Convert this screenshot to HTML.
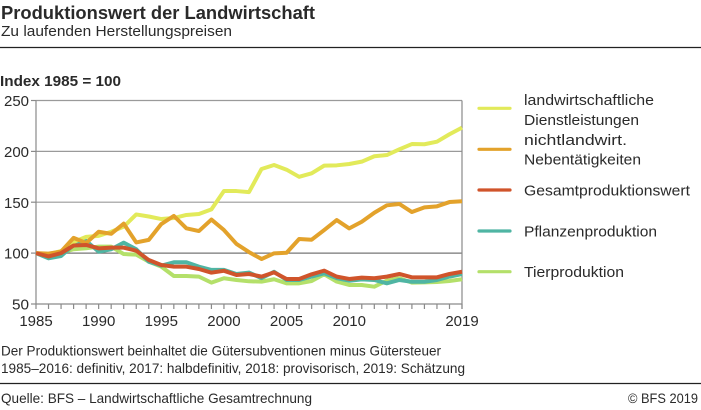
<!DOCTYPE html>
<html>
<head>
<meta charset="utf-8">
<style>
html,body{margin:0;padding:0;background:#fff;}
svg{display:block;}
text{font-family:"Liberation Sans",Arial,sans-serif;fill:#2a2a2a;}
</style>
</head>
<body>
<svg width="701" height="410" viewBox="0 0 701 410" xmlns="http://www.w3.org/2000/svg">
  <!-- Header -->
  <text x="1" y="19" font-size="18" font-weight="bold" fill="#1a1a1a" textLength="314" lengthAdjust="spacingAndGlyphs">Produktionswert der Landwirtschaft</text>
  <text x="1" y="36" font-size="14.5" textLength="231" lengthAdjust="spacingAndGlyphs">Zu laufenden Herstellungspreisen</text>
  <line x1="0" y1="47.5" x2="701" y2="47.5" stroke="#222" stroke-width="1.2"/>

  <text x="0" y="86" font-size="15" font-weight="bold" fill="#1a1a1a" textLength="121" lengthAdjust="spacingAndGlyphs">Index 1985 = 100</text>

  <!-- Grid -->
  <g stroke="#9a9a9a" stroke-width="1.2" fill="none">
    <line x1="36" y1="100.5" x2="462" y2="100.5"/>
    <line x1="36" y1="151.4" x2="462" y2="151.4"/>
    <line x1="36" y1="202.2" x2="462" y2="202.2"/>
  </g>
  <line x1="36" y1="253.1" x2="462" y2="253.1" stroke="#777" stroke-width="1.3"/>
  <g stroke="#8a8a8a" stroke-width="1.2" fill="none">
    <line x1="36" y1="100.5" x2="36" y2="304"/>
    <line x1="462" y1="100.5" x2="462" y2="309"/>
    <line x1="36" y1="304" x2="462" y2="304"/>
    <line x1="31" y1="100.5" x2="36" y2="100.5"/>
    <line x1="31" y1="151.4" x2="36" y2="151.4"/>
    <line x1="31" y1="202.2" x2="36" y2="202.2"/>
    <line x1="31" y1="253.1" x2="36" y2="253.1"/>
    <line x1="31" y1="304" x2="36" y2="304"/>
    <path d="M36 304v5M48.53 304v5M61.06 304v5M73.59 304v5M86.12 304v5M98.65 304v5M111.18 304v5M123.71 304v5M136.24 304v5M148.77 304v5M161.3 304v5M173.83 304v5M186.36 304v5M198.89 304v5M211.42 304v5M223.95 304v5M236.48 304v5M249.01 304v5M261.54 304v5M274.07 304v5M286.6 304v5M299.13 304v5M311.66 304v5M324.19 304v5M336.72 304v5M349.25 304v5M361.78 304v5M374.31 304v5M386.84 304v5M399.37 304v5M411.9 304v5M424.43 304v5M436.96 304v5M449.49 304v5M462 304v5"/>
  </g>

  <!-- Y labels -->
  <g font-size="15" text-anchor="end" fill="#333">
    <text x="29" y="106" textLength="25" lengthAdjust="spacingAndGlyphs">250</text>
    <text x="29" y="157" textLength="25" lengthAdjust="spacingAndGlyphs">200</text>
    <text x="29" y="207.8" textLength="25" lengthAdjust="spacingAndGlyphs">150</text>
    <text x="29" y="258.7" textLength="25" lengthAdjust="spacingAndGlyphs">100</text>
    <text x="29" y="309.6" textLength="17" lengthAdjust="spacingAndGlyphs">50</text>
  </g>
  <!-- X labels -->
  <g font-size="15" text-anchor="middle" fill="#333">
    <text x="36" y="326">1985</text>
    <text x="98.65" y="326">1990</text>
    <text x="161.3" y="326">1995</text>
    <text x="223.95" y="326">2000</text>
    <text x="286.6" y="326">2005</text>
    <text x="349.25" y="326">2010</text>
    <text x="462" y="326">2019</text>
  </g>

  <!-- Series -->
  <g transform="matrix(12.53 0 0 -1.0175 36 354.875)" fill="none" stroke-width="4" stroke-linejoin="round" stroke-linecap="butt">
    <polyline vector-effect="non-scaling-stroke" stroke="#b4e06a" points="0,100 1,98.2 2,100.4 3,103.8 4,104.8 5,106.4 6,106.4 7,99.1 8,98.5 9,91.6 10,86.7 11,77.5 12,77.5 13,76.9 14,71 15,75.3 16,73.6 17,72.3 18,72 19,74.3 20,70.3 21,70.3 22,72.6 23,79.2 24,72 25,68.7 26,68.7 27,67 28,73 29,75.3 30,71 31,71.3 32,71.6 33,72.6 34,74.3"/>
    <polyline vector-effect="non-scaling-stroke" stroke="#4fb5a3" points="0,100 1,94.9 2,97.2 3,108 4,112 5,101.5 6,103.8 7,110.3 8,103.8 9,91.6 10,87.7 11,91 12,91 13,86.7 14,83.5 15,83.5 16,79.5 17,80.9 18,75.4 19,81.7 20,73.6 21,73.6 22,76.9 23,80.2 24,75.4 25,72.9 26,74.2 27,73.6 28,70.3 29,73.6 30,71.9 31,71.9 32,73.6 33,76.9 34,79.5"/>
    <polyline vector-effect="non-scaling-stroke" stroke="#e2ea5a" points="0,100 1,99 2,102 3,111 4,116 5,117 6,121 7,126 8,138 9,136 10,133.5 11,134.5 12,137.5 13,138.5 14,143 15,161 16,161 17,160 18,182.7 19,186.6 20,182 21,175 22,178.4 23,186 24,186.3 25,187.6 26,189.9 27,195.2 28,196.4 29,202 30,207.2 31,207 32,209.5 33,216.8 34,223.3"/>
    <polyline vector-effect="non-scaling-stroke" stroke="#e3a22b" points="0,100 1,99.5 2,101.5 3,115 4,110 5,121 6,119 7,129 8,110.5 9,113 10,128.6 11,136.6 12,124.4 13,121.7 14,133 15,122.7 16,109 17,101 18,94.2 19,99.8 20,100.4 21,113.9 22,113.2 23,122.7 24,132.5 25,124.3 26,130.8 27,139.7 28,147 29,148.3 30,140.4 31,145 32,146 33,150.2 34,151"/>
    <polyline vector-effect="non-scaling-stroke" stroke="#d0542b" points="0,100 1,96.7 2,100 3,107.5 4,108 5,104.7 6,105.4 7,105.4 8,102.4 9,93.2 10,88.3 11,86.7 12,86.7 13,84.4 14,80.8 15,82.6 16,78.5 17,79.5 18,76.9 19,81.1 20,74.6 21,74.6 22,79.2 23,82.8 24,76.9 25,74.6 26,75.9 27,75.3 28,76.9 29,79.5 30,76.2 31,76.2 32,76.2 33,79.5 34,81.7"/>
  </g>

  <!-- Legend -->
  <g stroke-width="3.2" stroke-linecap="round">
    <line x1="479" y1="108.3" x2="510" y2="108.3" stroke="#e2ea5a"/>
    <line x1="479" y1="149.3" x2="510" y2="149.3" stroke="#e3a22b"/>
    <line x1="479" y1="190" x2="510" y2="190" stroke="#d0542b"/>
    <line x1="479" y1="231" x2="510" y2="231" stroke="#4fb5a3"/>
    <line x1="479" y1="271.7" x2="510" y2="271.7" stroke="#b4e06a"/>
  </g>
  <g font-size="15" fill="#333">
    <text x="524" y="105" textLength="130" lengthAdjust="spacingAndGlyphs">landwirtschaftliche</text>
    <text x="524" y="125" textLength="115" lengthAdjust="spacingAndGlyphs">Dienstleistungen</text>
    <text x="524" y="145" textLength="103" lengthAdjust="spacingAndGlyphs">nichtlandwirt.</text>
    <text x="524" y="164.5" textLength="117" lengthAdjust="spacingAndGlyphs">Nebentätigkeiten</text>
    <text x="524" y="195.5" textLength="166" lengthAdjust="spacingAndGlyphs">Gesamtproduktionswert</text>
    <text x="524" y="236.5" textLength="133" lengthAdjust="spacingAndGlyphs">Pflanzenproduktion</text>
    <text x="524" y="277" textLength="100" lengthAdjust="spacingAndGlyphs">Tierproduktion</text>
  </g>

  <!-- Footnotes -->
  <g font-size="14" fill="#333">
    <text x="1" y="355.5" textLength="440" lengthAdjust="spacingAndGlyphs">Der Produktionswert beinhaltet die Gütersubventionen minus Gütersteuer</text>
    <text x="1" y="373" textLength="464" lengthAdjust="spacingAndGlyphs">1985–2016: definitiv, 2017: halbdefinitiv, 2018: provisorisch, 2019: Schätzung</text>
  </g>
  <line x1="0" y1="383.5" x2="701" y2="383.5" stroke="#222" stroke-width="1.2"/>
  <g font-size="14" fill="#333">
    <text x="1" y="403" textLength="311" lengthAdjust="spacingAndGlyphs">Quelle: BFS – Landwirtschaftliche Gesamtrechnung</text>
    <text x="698" y="403" text-anchor="end" textLength="70" lengthAdjust="spacingAndGlyphs">© BFS 2019</text>
  </g>
</svg>
</body>
</html>
